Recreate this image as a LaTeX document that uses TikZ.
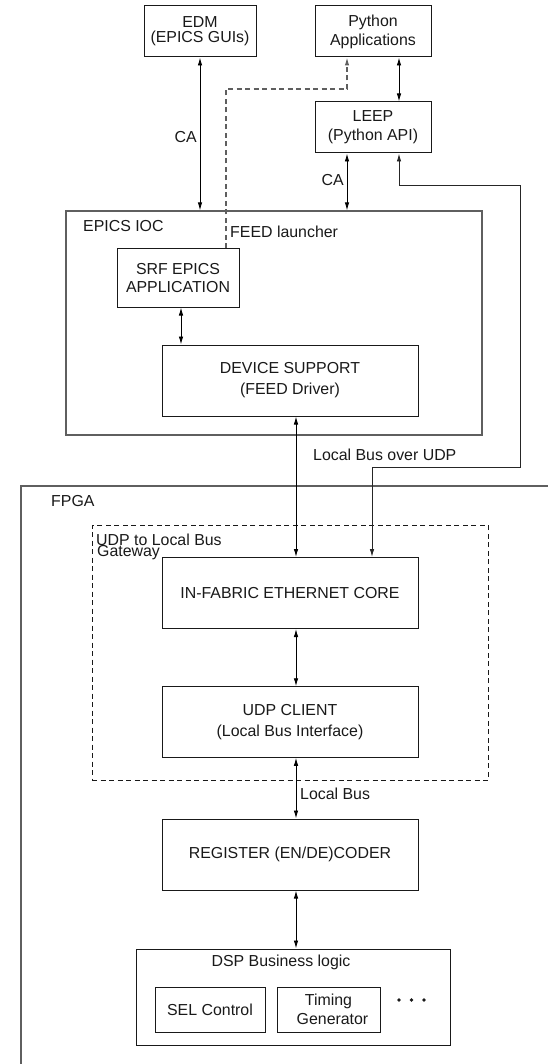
\documentclass[tikz,border=0pt]{standalone}
\usepackage{fontspec}
\setmainfont{Liberation Sans}
\usetikzlibrary{arrows.meta}
\definecolor{frame}{RGB}{95,95,95}
\definecolor{ink}{RGB}{25,25,25}
\begin{document}
\begin{tikzpicture}[x=1pt,y=-1pt,
  txt/.style={font=\fontsize{15.9}{19}\selectfont, inner sep=0pt, text=ink},
  box/.style={txt, draw=ink, line width=1pt, rectangle, align=center},
  container/.style={draw=frame, line width=1.2pt},
  arr/.style={line width=0.9pt, draw=black, {Latex[length=8pt,width=4.5pt]}-{Latex[length=8pt,width=4.5pt]}},
  uparr/.style={line width=1.1pt, draw=frame, dash pattern=on 5pt off 3.5pt, -{Latex[length=8pt,width=4.5pt]}}]
\useasboundingbox (0,0) rectangle (548,1064);

% client side
\node[box, minimum width=112pt, minimum height=51pt, font=\fontsize{15.9}{15}\selectfont] (edm) at (200,31.5) {EDM\\(EPICS GUIs)};
\node[box, minimum width=116pt, minimum height=51pt] (python) at (373,31.5) {Python\\Applications};
\node[box, minimum width=116pt, minimum height=51pt] (leep) at (373,127.5) {LEEP\\(Python API)};

% EPICS IOC and its parts
\node[container, rectangle, minimum width=416pt, minimum height=224pt, inner sep=0pt] (ioc) at (274,323) {};
\node[txt, anchor=west] (ioclabel) at (83,226) {EPICS IOC};
\node[box, minimum width=122pt, minimum height=58pt, font=\fontsize{15.9}{18}\selectfont] (srf) at (178,278) {SRF EPICS\\APPLICATION};
\node[box, minimum width=256pt, minimum height=71pt, font=\fontsize{15.9}{21}\selectfont] (device) at (290,380.5) {DEVICE SUPPORT\\(FEED Driver)};
\node[txt, anchor=west] (feed) at (230,232) {FEED launcher};

% FPGA, running off the right and bottom edges
\begin{scope}
  \clip (0,0) rectangle (548,1064);
  \draw[container] (21,1080) |- (570,486);
\end{scope}
\node[txt, anchor=west] (fpga) at (51,501) {FPGA};

% gateway
\node[draw=ink, line width=1pt, dash pattern=on 5pt off 3.5pt, rectangle, minimum width=396pt, minimum height=255pt, inner sep=0pt] (gateway) at (290,652.5) {};
\node[txt, anchor=west] (gwlabel1) at (96,539.5) {UDP to Local Bus};
\node[txt, anchor=west] (gwlabel2) at (97,552.5) {Gateway};
\node[box, fill=white, minimum width=256pt, minimum height=71pt] (eth) at (290,593) {IN-FABRIC ETHERNET CORE};
\node[box, minimum width=256pt, minimum height=70.5pt, font=\fontsize{15.9}{21}\selectfont] (udp) at (290,722) {UDP CLIENT\\(Local Bus Interface)};

% register access and application logic
\node[box, minimum width=256pt, minimum height=71pt] (reg) at (290,854.5) {REGISTER (EN/DE)CODER};
\node[box, minimum width=314pt, minimum height=96pt] (dsp) at (293,997) {};
\node[txt] (dsplabel) at (281,962) {DSP Business logic};
\node[box, minimum width=110pt, minimum height=45pt] (sel) at (210,1009.5) {SEL Control};
\node[box, minimum width=103pt, minimum height=45pt] (timing) at (328.5,1009.5) {Timing\\\hspace*{8pt}Generator};
\foreach \dx [count=\i] in {399,411.5,424}
  \fill[ink] (\dx,1000) circle (1.9pt) coordinate (dot\i);

% connector columns
\coordinate (colmain) at (296,0);
\coordinate (colsrf) at (181,0);
\coordinate (dturn) at (226,89);
\coordinate (r1) at (520,185);
\coordinate (r2) at (372,467);

% connectors
\draw[arr] (edm.south) -- (edm.south |- ioc.north);
\node[txt, anchor=east] (ca1) at (197,137) {CA};
\draw[arr] ([xshift=26pt]python.south) -- ([xshift=26pt]leep.north);
\draw[arr] ([xshift=-26pt]leep.south) -- ([xshift=-26pt]leep.south |- ioc.north);
\node[txt, anchor=east] (ca2) at (344,180) {CA};
\draw[uparr] (srf.north -| dturn) -- (dturn) -| ([xshift=-26pt]python.south);
\draw[arr] (srf.south -| colsrf) -- (device.north -| colsrf);
\draw[arr] (device.south -| colmain) -- (eth.north -| colmain);
\node[txt, anchor=west] (lbudp) at (313,455) {Local Bus over UDP};
\draw[arr, draw=black!85] ([xshift=26pt]leep.south) |- (r1) |- (r2) -- (r2 |- eth.north);
\draw[arr] (eth.south -| colmain) -- (udp.north -| colmain);
\draw[arr] (udp.south -| colmain) -- (reg.north -| colmain);
\node[txt, anchor=west] (lb) at (300,794) {Local Bus};
\draw[arr] (reg.south -| colmain) -- (dsp.north -| colmain);
\end{tikzpicture}
\end{document}
